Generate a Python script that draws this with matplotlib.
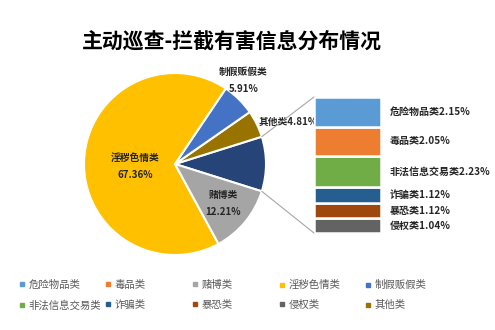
import matplotlib

matplotlib.use("Agg")
import matplotlib.pyplot as plt
import numpy as np
from matplotlib.lines import Line2D
from matplotlib.patches import ConnectionPatch

plt.rcParams["font.family"] = ["Noto Sans CJK SC", "DejaVu Sans"]

# pie slices (counter-clockwise, starting with the combined slice)
pie_labels = ["其他合计", "其他类", "制假贩假类", "淫秽色情类", "赌博类"]
pie_values = [9.71, 4.81, 5.91, 67.36, 12.21]
pie_colors = ["#264478", "#997300", "#4472C4", "#FFC000", "#A5A5A5"]

# bar-of-pie segments (bottom to top)
bar_labels = ["侵权类", "暴恐类", "诈骗类", "非法信息交易类", "毒品类", "危险物品类"]
bar_values = [1.04, 1.12, 1.12, 2.23, 2.05, 2.15]
bar_colors = ["#636363", "#9E480E", "#255E91", "#70AD47", "#ED7D31", "#5B9BD5"]

legend_order = [
    ("危险物品类", "#5B9BD5"), ("非法信息交易类", "#70AD47"),
    ("毒品类", "#ED7D31"), ("诈骗类", "#255E91"),
    ("赌博类", "#A5A5A5"), ("暴恐类", "#9E480E"),
    ("淫秽色情类", "#FFC000"), ("侵权类", "#636363"),
    ("制假贩假类", "#4472C4"), ("其他类", "#997300"),
]

W, H = 495, 330
fig = plt.figure(figsize=(W / 100, H / 100), dpi=100)

fig.text(232 / W, 1 - 41 / H, "主动巡查-拦截有害信息分布情况",
         ha="center", va="center", fontsize=15, fontweight="bold", color="black")

# pie
cx, cy, r = 175, 164, 91
ax_pie = fig.add_axes([(cx - r) / W, (H - cy - r) / H, 2 * r / W, 2 * r / H])
start = -pie_values[0] / 100 * 360 / 2
wedges, _ = ax_pie.pie(pie_values, colors=pie_colors, startangle=start,
                       counterclock=True, radius=1,
                       wedgeprops=dict(edgecolor="white", linewidth=1.5))
ax_pie.set_xlim(-1, 1)
ax_pie.set_ylim(-1, 1)
ax_pie.axis("off")

lbl = dict(fontsize=7, fontweight="bold", color="#262626", ha="center", va="center",
           linespacing=1.9)
ax_pie.text(-0.44, -0.03, f"{pie_labels[3]}\n{pie_values[3]:.2f}%", **lbl)
ax_pie.text(0.53, -0.43, f"{pie_labels[4]}\n{pie_values[4]:.2f}%", **lbl)
ax_pie.text(0.75, 0.92, f"{pie_labels[2]}\n{pie_values[2]:.2f}%", **lbl)
ax_pie.text(0.92, 0.46, f"{pie_labels[1]}{pie_values[1]:.2f}%",
            fontsize=7, fontweight="bold", color="#262626", ha="left", va="center")

# stacked bar
total = sum(bar_values)
ax_bar = fig.add_axes([314 / W, (H - 233) / H, 67 / W, 136 / H])
bottom = 0
for name, val, col in zip(bar_labels, bar_values, bar_colors):
    ax_bar.bar(0.5, val, width=1, bottom=bottom, color=col,
               edgecolor="white", linewidth=1.8)
    ax_bar.text(1.13, bottom + val / 2, f"{name}{val:.2f}%", fontsize=7.2,
                fontweight="bold", color="#262626", ha="left", va="center")
    bottom += val
ax_bar.set_xlim(0, 1)
ax_bar.set_ylim(0, total)
ax_bar.axis("off")

# connector lines
half = np.deg2rad(abs(start))
for sgn, yb in [(1, total), (-1, 0)]:
    con = ConnectionPatch(xyA=(np.cos(half), sgn * np.sin(half)), coordsA=ax_pie.transData,
                          xyB=(0, yb), coordsB=ax_bar.transData,
                          color="#A6A6A6", linewidth=0.8)
    fig.add_artist(con)

# legend, five columns placed evenly
col_x = [19, 105, 192, 279, 365]
for i, x in enumerate(col_x):
    handles = [Line2D([], [], marker="s", linestyle="none", markersize=3.5,
                      color=c, label=n) for n, c in legend_order[2 * i:2 * i + 2]]
    fig.legend(handles=handles, loc="upper left", bbox_to_anchor=(x / W, 1 - 280 / H),
               frameon=False, fontsize=7.5, labelcolor="#595959", handlelength=0.6,
               handletextpad=0.3, labelspacing=0.95, borderpad=0, borderaxespad=0)

fig.savefig("out.png", dpi=100)
